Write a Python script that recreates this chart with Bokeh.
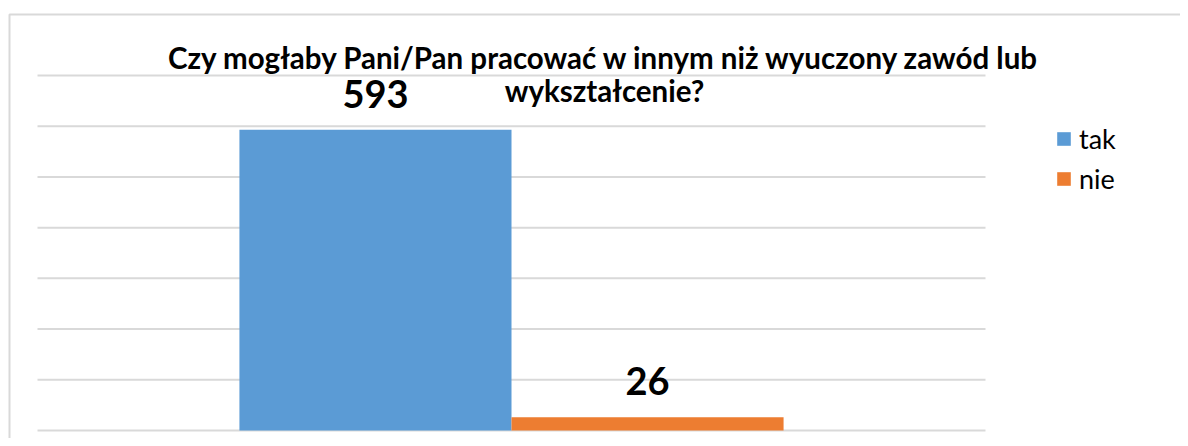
from bokeh.plotting import figure
from bokeh.models import (ColumnDataSource, Range1d, Label, LabelSet,
                          Legend, LegendItem)
from bokeh.transform import dodge
from bokeh.core.properties import value
from bokeh.embed import file_html
from bokeh.resources import INLINE

# ---- data ----
title_lines = ["Czy mogłaby Pani/Pan pracować w innym niż wyuczony zawód lub",
               "wykształcenie?"]
categories = ["odpowiedzi"]          # single (unlabelled) category
series = ["tak", "nie"]
values = [593, 26]
colors = ["#5B9BD5", "#ED7D31"]
y_ticks = [0, 100, 200, 300, 400, 500, 600, 700]

FONT = "Lato"

# ---- layout geometry (picture pixels -> data units) ----
FIG_W, FIG_H = 1180, 438
PAGE_X0, PAGE_Y0 = 0, 0
CAT_CENTER_PX, CAT_WIDTH_PX = 511, 948     # category band in the picture
Y0_PX, PX_PER_UNIT = 430, 355 / 700        # baseline and scale


def xd(px):
    return (px - CAT_CENTER_PX) / CAT_WIDTH_PX


def yd(py):
    return (Y0_PX - py) / PX_PER_UNIT


x_start, x_end = xd(PAGE_X0), xd(PAGE_X0 + FIG_W)
y_start, y_end = yd(PAGE_Y0 + FIG_H), yd(PAGE_Y0)

p = figure(width=FIG_W, height=FIG_H,
           x_range=Range1d(x_start, x_end), y_range=Range1d(y_start, y_end),
           output_backend="svg", toolbar_location=None,
           min_border=0, min_border_left=0, min_border_right=0,
           min_border_top=0, min_border_bottom=0)
p.outline_line_color = None
p.background_fill_color = "white"
p.border_fill_color = "white"
p.xaxis.visible = False
p.yaxis.visible = False
p.xgrid.visible = False
p.ygrid.visible = False

# chart-area border (left and top edges)
p.line(x=[xd(9), xd(9), x_end], y=[y_start, yd(14), yd(14)],
       line_color="#d9d9d9", line_width=2)

# horizontal gridlines spanning the category band
cat_idx = list(range(len(categories)))
p.segment(x0=[-0.5] * len(y_ticks), x1=[len(categories) - 0.5] * len(y_ticks),
          y0=y_ticks, y1=y_ticks, line_color="#d9d9d9", line_width=2)

bar_w = 0.287
offsets = [-bar_w / 2, bar_w / 2]
renderers = []
for s, v, c, off in zip(series, values, colors, offsets):
    src = ColumnDataSource(dict(x=cat_idx, val=[v], lab=[str(v)]))
    r = p.vbar(x=dodge("x", off), top="val", bottom=0,
               width=bar_w, source=src, fill_color=c, line_color=None)
    renderers.append(r)
    p.add_layout(LabelSet(x=dodge("x", off), y="val", text="lab",
                          source=src, y_offset=22, text_align="center",
                          text_baseline="alphabetic", text_font=value(FONT),
                          text_font_style="bold", text_font_size="38px",
                          text_color="black"))

title_x = xd(604)
for line, ty in zip(title_lines, [yd(57), yd(90)]):
    p.add_layout(Label(x=title_x, y=ty, text=line, text_align="center",
                       text_baseline="alphabetic", text_font=FONT,
                       text_font_style="bold", text_font_size="29.5px",
                       text_color="black"))

legend = Legend(items=[LegendItem(label=s, renderers=[r]) for s, r in zip(series, renderers)],
                location=(1055 - PAGE_X0, PAGE_Y0 + FIG_H - 195.5),
                orientation="vertical",
                glyph_width=17, glyph_height=17, label_height=34, spacing=6,
                padding=0, margin=0, label_standoff=7,
                label_text_font=FONT, label_text_font_size="27px",
                label_text_color="black",
                border_line_color=None, background_fill_alpha=0)
p.add_layout(legend, "center")

open("out.html", "w").write(file_html(p, INLINE))
